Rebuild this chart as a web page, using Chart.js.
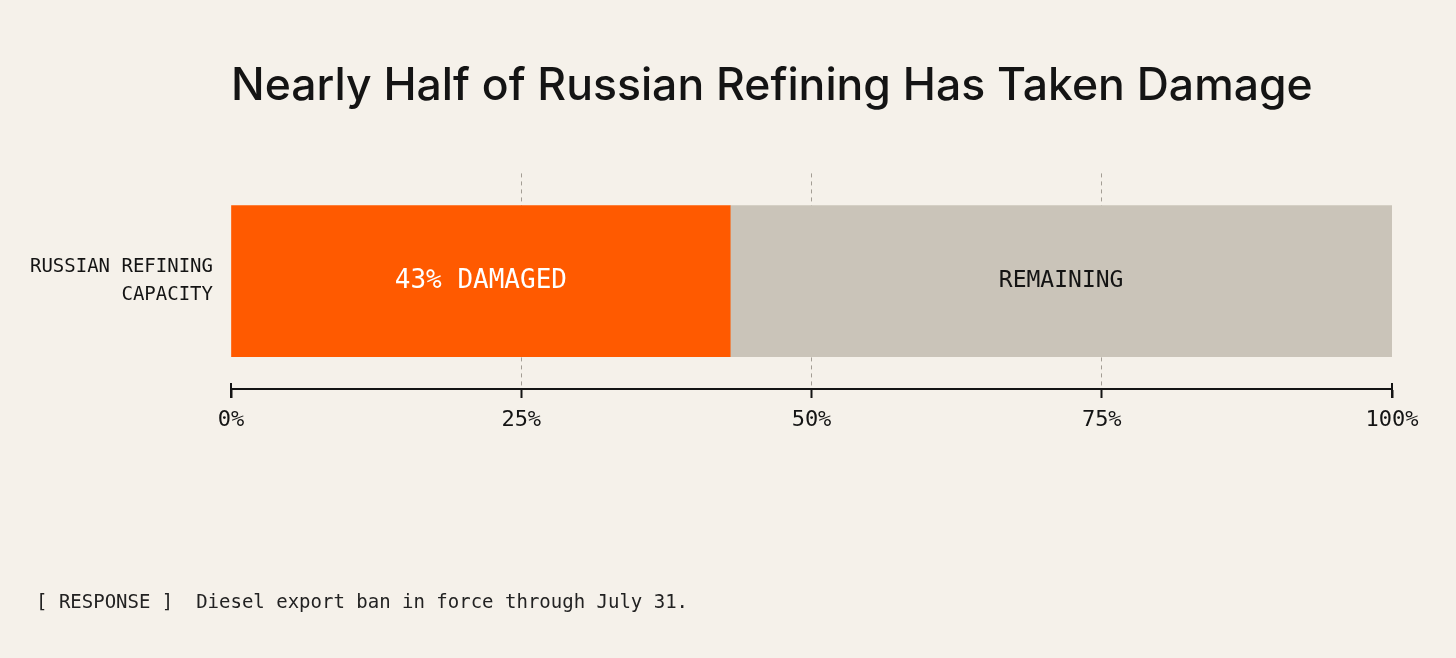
<!DOCTYPE html>
<html>
<head>
<meta charset="utf-8">
<script src="https://cdn.jsdelivr.net/npm/chart.js@4/dist/chart.umd.min.js"></script>
<style>
  html, body { margin: 0; padding: 0; background: #F5F1EA; }
  #wrap { width: 1456px; height: 658px; position: relative; }
</style>
</head>
<body>
<div id="wrap"><canvas id="c" width="1456" height="658"></canvas></div>
<script>
const titleText = 'Nearly Half of Russian Refining Has Taken Damage';
const footerText = '[ RESPONSE ]  Diesel export ban in force through July 31.';
const categories = [['RUSSIAN REFINING', 'CAPACITY']];
const damagedValues = [43];
const remainingValues = [57];
const seriesNames = ['DAMAGED', 'REMAINING'];
const tickValues = [0, 25, 50, 75, 100];

const MONO = '"DejaVu Sans Mono", "Liberation Mono", monospace';
const INK = '#141414';

const barLabels = {
  id: 'barLabels',
  afterDatasetsDraw(chart) {
    const ctx = chart.ctx;
    ctx.save();
    ctx.textAlign = 'center';
    ctx.textBaseline = 'middle';
    chart.data.datasets.forEach((ds, i) => {
      const meta = chart.getDatasetMeta(i);
      meta.data.forEach((el, j) => {
        const cx = (el.x + el.base) / 2;
        const cy = el.y;
        let txt, color, size;
        if (i === 0) { txt = ds.data[j] + '% ' + ds.label; color = '#FFFFFF'; size = 26; }
        else { txt = ds.label; color = INK; size = 23; }
        ctx.font = size + 'px ' + MONO;
        ctx.fillStyle = color;
        ctx.fillText(txt, cx, cy);
      });
    });
    ctx.restore();
  }
};

const axisCaps = {
  id: 'axisCaps',
  afterDraw(chart) {
    const s = chart.scales.x;
    const ctx = chart.ctx;
    ctx.save();
    ctx.strokeStyle = INK;
    ctx.lineWidth = 2;
    [s.min, s.max].forEach(v => {
      const px = s.getPixelForValue(v);
      ctx.beginPath();
      ctx.moveTo(px, s.top - 6);
      ctx.lineTo(px, s.top + 9);
      ctx.stroke();
    });
    ctx.restore();
  }
};

const footer = {
  id: 'footer',
  afterDraw(chart) {
    const ctx = chart.ctx;
    ctx.save();
    ctx.font = '19px ' + MONO;
    ctx.fillStyle = '#222';
    ctx.textAlign = 'left';
    ctx.textBaseline = 'middle';
    ctx.fillText(footerText, 36, 603);
    ctx.restore();
  }
};

new Chart(document.getElementById('c'), {
  type: 'bar',
  data: {
    labels: categories,
    datasets: [
      { label: seriesNames[0], data: damagedValues, backgroundColor: '#FF5A00', borderWidth: 0 },
      { label: seriesNames[1], data: remainingValues, backgroundColor: '#CAC4B9', borderWidth: 0 }
    ]
  },
  options: {
    indexAxis: 'y',
    responsive: false,
    animation: false,
    devicePixelRatio: 1,
    layout: { padding: { left: 16, right: 64, top: 0, bottom: 67 } },
    datasets: { bar: { barThickness: 151 } },
    plugins: {
      legend: { display: false },
      tooltip: { enabled: false },
      title: {
        display: true,
        text: titleText,
        align: 'start',
        fullSize: false,
        color: INK,
        font: { family: 'Inter', size: 44.5, weight: '500', lineHeight: 1.2 },
        padding: { top: 60, bottom: 60 }
      }
    },
    scales: {
      x: {
        stacked: true,
        min: 0,
        max: 100,
        afterBuildTicks(scale) { scale.ticks = tickValues.map(v => ({ value: v })); },
        afterFit(scale) { scale.height = 202; },
        border: { display: true, color: INK, width: 2, dash: [4, 4] },
        grid: {
          drawOnChartArea: true,
          drawTicks: true,
          tickLength: 9,
          tickWidth: 2,
          tickColor: INK,
          tickBorderDash: [],
          lineWidth: 1,
          color: ctx => (ctx.tick && (ctx.tick.value === 0 || ctx.tick.value === 100)) ? 'rgba(0,0,0,0)' : '#A39D94'
        },
        ticks: {
          color: INK,
          padding: 9,
          font: { family: MONO, size: 22 },
          callback: v => v + '%'
        }
      },
      y: {
        stacked: true,
        afterFit(scale) { scale.width = 215; },
        border: { display: false },
        grid: { display: false, drawTicks: false },
        ticks: {
          color: INK,
          padding: 18,
          font: { family: MONO, size: 19, lineHeight: 1.45 }
        }
      }
    }
  },
  plugins: [barLabels, axisCaps, footer]
});
</script>
</body>
</html>
